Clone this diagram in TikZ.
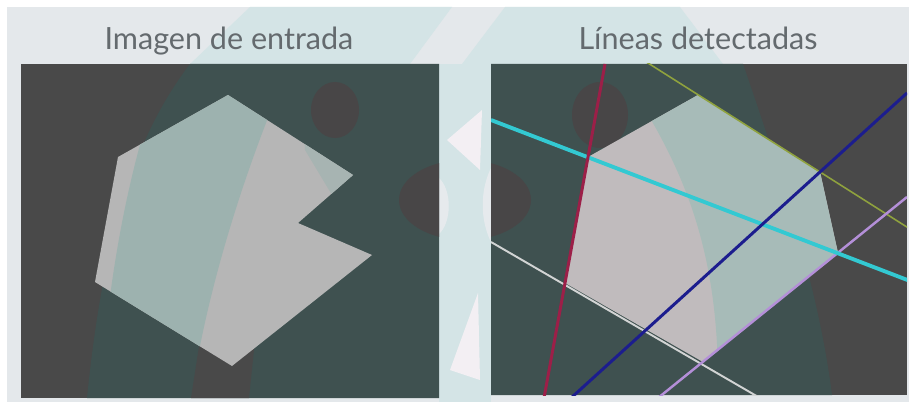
\documentclass[tikz,border=0pt]{standalone}
\usepackage{fontspec}
\setmainfont{Lato}

\definecolor{slidebg}{HTML}{E4E8EB}
\definecolor{marklight}{HTML}{D4E4E6}
\definecolor{markwhite}{HTML}{F3EFF3}
\definecolor{bgdark}{HTML}{494949}
\definecolor{bgteal}{HTML}{3F5150}
\definecolor{blobdark}{HTML}{484647}
\definecolor{shapegrey}{HTML}{B6B6B6}
\definecolor{shapeteal}{HTML}{9DB2AF}
\definecolor{shapegreyb}{HTML}{C0BBBD}
\definecolor{shapetealb}{HTML}{A7BBB8}
\definecolor{titlegrey}{HTML}{646A6E}
\definecolor{lgreen}{HTML}{8FA23E}
\definecolor{lcyan}{HTML}{33C9D2}
\definecolor{lred}{HTML}{9C1F48}
\definecolor{lblue}{HTML}{1C1D8E}
\definecolor{lwhite}{HTML}{D2D4D4}
\definecolor{lpurple}{HTML}{B48FD8}

\tikzset{
  title/.style={anchor=base, text=titlegrey, font=\fontsize{17.4}{21}\selectfont, inner sep=0pt},
  hough/.style={line cap=butt},
}

\begin{document}
\begin{tikzpicture}[x=0.02cm, y=-0.02cm]
	\useasboundingbox (0,0) rectangle (909,402);
	% Slide background with the faint logo behind:
	\fill[white] (0,0) rectangle (909,402);
	\fill[slidebg] (7,7) rectangle (909,402);
	\fill[marklight] (190,64) -- (250,7) -- (452,7) -- (410,64) -- cycle;
	\fill[marklight] (462,64) -- (505,7) -- (680,7) -- (723,64) -- cycle;
	\fill[marklight] (439,64) rectangle (491,402);
	\fill[markwhite] (447,140) -- (482,110) -- (480,170) -- cycle;
	\fill[markwhite] (478,293) -- (480,380) -- (450,370) -- cycle;
	\fill[markwhite, opacity=0.6] (439,178) .. controls (452,190) and (452,222) .. (439,234) -- cycle;
	\fill[markwhite, opacity=0.6] (491,168) .. controls (480,190) and (480,220) .. (491,242) -- cycle;

	% Titles:
	\node[title] (lefttitle) at (229,50) {Imagen de entrada};
	\node[title] (righttitle) at (698,50) {Líneas detectadas};

	% Input image:
	\begin{scope}
		\clip (21,64) rectangle (439,398);
		\fill[bgdark] (21,64) rectangle (439,398);
		\fill[bgteal] (190,64) .. controls (140,130) and (105,220) .. (87,398) -- (439,398) -- (439,64) -- cycle;
		\fill[blobdark] (335,110) ellipse [x radius=24, y radius=28];
		\fill[blobdark] (465,200) ellipse [x radius=66, y radius=40];
		\fill[bgdark] (200,340) -- (255,340) -- (249,398) -- (191,398) -- cycle;
		\fill[shapegrey] (228,95) -- (353,175) -- (298,223) -- (372,255) -- (232,366) -- (95,282) -- (118,157) -- cycle;
		\clip (228,95) -- (353,175) -- (298,223) -- (372,255) -- (232,366) -- (95,282) -- (118,157) -- cycle;
		\fill[shapeteal] (165,64) .. controls (135,150) and (110,250) .. (100,398) -- (191,398) .. controls (205,300) and (240,180) .. (290,64) -- cycle;
		\fill[shapeteal!60!shapegrey] (300,64) -- (305,150) -- (335,200) -- (400,200) -- (400,64) -- cycle;
	\end{scope}

	% Detected lines:
	\begin{scope}
		\clip (491,64) rectangle (907,395);
		\fill[bgdark] (491,64) rectangle (907,395);
		\fill[bgteal] (491,64) -- (743,64) .. controls (790,200) and (820,300) .. (832,395) -- (491,395) -- cycle;
		\fill[blobdark] (600,115) ellipse [x radius=28, y radius=33];
		\fill[blobdark] (465,200) ellipse [x radius=66, y radius=40];
		\fill[shapegreyb] (698,95) -- (820,172) -- (838,253) -- (703,362) -- (565,283) -- (588,157) -- cycle;
		\begin{scope}
			\clip (698,95) -- (820,172) -- (838,253) -- (703,362) -- (565,283) -- (588,157) -- cycle;
			\fill[shapetealb] (615,64) .. controls (690,170) and (720,260) .. (718,398) -- (907,398) -- (907,64) -- cycle;
		\end{scope}
		\draw[hough, lgreen, line width=0.9pt] (640,58) -- (910,229);
		\draw[hough, lwhite, line width=1.1pt] (491,242) -- (760,398);
		\draw[hough, lpurple, line width=1.4pt] (907,197) -- (658,398);
		\draw[hough, lcyan, line width=2.2pt] (491,120) -- (910,281);
		\draw[hough, lred, line width=1.7pt] (605,64) -- (544,398);
		\draw[hough, lblue, line width=1.7pt] (907,93) -- (571,398);
	\end{scope}
\end{tikzpicture}
\end{document}
